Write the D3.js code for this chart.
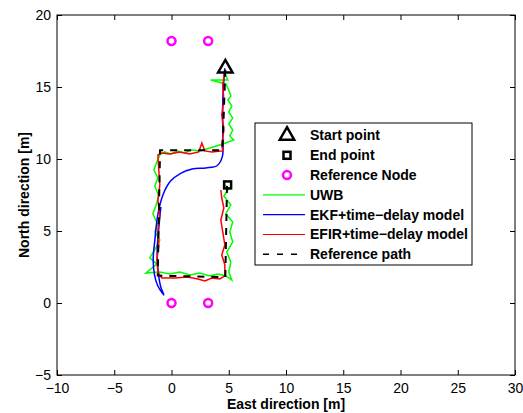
<!DOCTYPE html>
<html>
<head>
<meta charset="utf-8">
<script src="https://cdn.jsdelivr.net/npm/d3@7"></script>
<style>
  body { margin: 0; background: #fff; }
  svg text { font-family: "Liberation Sans", Arial, sans-serif; }
</style>
</head>
<body>
<div id="chart"></div>
<script>
// Axis ticks
const xTicks = [-10, -5, 0, 5, 10, 15, 20, 25, 30];
const yTicks = [-5, 0, 5, 10, 15, 20];

// Markers
const startPoint = [[4.7, 16.3]];
const endPoint = [[4.9, 8.2]];
const refNodes = [[0, 0], [3.2, 0], [0, 18.2], [3.2, 18.2]];

// Reference path (dashed)
const refPath = [[4.7, 16.2], [4.45, 10.6], [-1.0, 10.6], [-1.2, 1.9], [4.7, 1.8], [4.85, 8.2]];

// UWB raw positions
const uwb = [
  [4.74, 15.83], [4.92, 15.49], [3.43, 15.49], [4.74, 15.21], [5.0, 14.79], [5.18, 14.38],
  [4.92, 14.1], [5.27, 13.68], [5.0, 13.26], [5.35, 12.85], [5.0, 12.43], [5.35, 12.01],
  [5.09, 11.6], [5.44, 11.32], [4.48, 11.04], [3.35, 10.76], [2.47, 10.56], [1.77, 10.63],
  [1.16, 10.42], [0.55, 10.56], [-0.06, 10.35], [-0.59, 10.49], [-1.02, 10.28], [-1.28, 9.79],
  [-1.54, 9.24], [-1.19, 8.68], [-1.46, 8.13], [-1.11, 7.43], [-1.37, 6.74], [-1.63, 6.18],
  [-1.19, 5.49], [-1.46, 4.93], [-1.02, 4.38], [-1.37, 3.82], [-1.9, 3.13], [-1.28, 2.71],
  [-2.24, 2.08], [-1.02, 2.15], [-0.15, 2.01], [0.72, 2.15], [1.6, 1.94], [2.47, 2.08],
  [3.35, 1.88], [4.04, 2.01], [4.74, 1.88], [5.27, 1.6], [5.0, 2.15], [5.18, 2.85],
  [4.83, 3.54], [5.35, 4.24], [5.09, 4.93], [5.35, 5.63], [4.74, 6.18], [5.18, 6.81],
  [4.57, 7.43], [5.0, 7.92], [4.66, 8.19]
];

// EKF + time-delay model
const ekf = [
  [4.65, 16.3], [4.48, 14.1], [4.48, 11.3], [4.45, 10.2], [4.0, 9.55], [3.0, 9.38],
  [1.8, 9.3], [0.8, 9.0], [-0.1, 8.45], [-0.75, 7.5], [-1.2, 6.1], [-1.45, 4.4],
  [-1.6, 3.0], [-1.48, 1.94], [-1.2, 1.2], [-0.67, 0.56], [-0.95, 1.15], [-1.18, 2.3],
  [-1.25, 3.7], [-1.12, 5.1], [-0.93, 6.67]
];

// EFIR + time-delay model
const efir = [
  [4.66, 16.18], [4.48, 15.14], [4.57, 14.1], [4.39, 13.06], [4.57, 12.01], [4.39, 10.97],
  [4.48, 10.56], [3.52, 10.49], [2.91, 10.56], [2.65, 11.11], [2.38, 10.49], [1.6, 10.35],
  [0.72, 10.49], [-0.15, 10.35], [-0.85, 10.42], [-1.19, 10.28], [-1.11, 9.24], [-1.02, 8.19],
  [-1.19, 7.15], [-1.02, 6.11], [-1.19, 5.07], [-1.11, 4.03], [-1.28, 2.99], [-1.19, 2.15],
  [-0.85, 1.74], [0.29, 1.74], [1.42, 1.81], [2.3, 1.67], [2.91, 1.53], [3.52, 1.74],
  [4.22, 1.67], [4.66, 1.88], [4.66, 2.64], [4.39, 3.33], [4.66, 4.03], [4.48, 4.93],
  [4.31, 5.76], [4.57, 6.6], [4.39, 7.29], [4.31, 7.85]
];

const width = 523, height = 413;
const margin = { top: 15, right: 8, bottom: 38, left: 57 };
const innerW = width - margin.left - margin.right;
const innerH = height - margin.top - margin.bottom;

const svg = d3.select("#chart").append("svg")
  .attr("width", width).attr("height", height);

const x = d3.scaleLinear().domain([-10, 30]).range([0, innerW]);
const y = d3.scaleLinear().domain([-5, 20]).range([innerH, 0]);

const g = svg.append("g").attr("transform", `translate(${margin.left},${margin.top})`);

const fmt = d => d < 0 ? "\u2212" + Math.abs(d) : d;

// Axes with inward ticks (MATLAB box style)
g.append("g").attr("transform", `translate(0,${innerH})`)
  .call(d3.axisBottom(x).tickValues(xTicks).tickSizeInner(-5).tickSizeOuter(0).tickPadding(8).tickFormat(fmt));
g.append("g")
  .call(d3.axisLeft(y).tickValues(yTicks).tickSizeInner(-5).tickSizeOuter(0).tickPadding(6).tickFormat(fmt));
g.append("g")
  .call(d3.axisTop(x).tickValues(xTicks).tickSizeInner(-5).tickSizeOuter(0).tickFormat(""));
g.append("g").attr("transform", `translate(${innerW},0)`)
  .call(d3.axisRight(y).tickValues(yTicks).tickSizeInner(-5).tickSizeOuter(0).tickFormat(""));

g.selectAll(".domain").remove();
g.selectAll(".tick line").attr("stroke", "#000");
g.selectAll(".tick text").attr("fill", "#000").style("font-size", "14px");

g.append("rect").attr("width", innerW).attr("height", innerH)
  .attr("fill", "none").attr("stroke", "#000").attr("stroke-width", 1);

const line = d3.line().x(d => x(d[0])).y(d => y(d[1]));
const smooth = d3.line().x(d => x(d[0])).y(d => y(d[1])).curve(d3.curveCatmullRom);

g.append("path").datum(uwb).attr("d", line)
  .attr("fill", "none").attr("stroke", "#00ff00").attr("stroke-width", 1.5);
g.append("path").datum(ekf).attr("d", smooth)
  .attr("fill", "none").attr("stroke", "#0000ff").attr("stroke-width", 1.5);
g.append("path").datum(efir).attr("d", line)
  .attr("fill", "none").attr("stroke", "#ff0000").attr("stroke-width", 1.5);
g.append("path").datum(refPath).attr("d", line)
  .attr("fill", "none").attr("stroke", "#000").attr("stroke-width", 2).attr("stroke-dasharray", "7,7");

// Markers
const tri = d3.symbol().type(d3.symbolTriangle).size(90);
g.selectAll(".start").data(startPoint).enter().append("path")
  .attr("d", tri).attr("transform", d => `translate(${x(d[0])},${y(d[1])})`)
  .attr("fill", "none").attr("stroke", "#000").attr("stroke-width", 2.5);
g.selectAll(".end").data(endPoint).enter().append("rect")
  .attr("x", d => x(d[0]) - 3.5).attr("y", d => y(d[1]) - 3.5)
  .attr("width", 7).attr("height", 7)
  .attr("fill", "none").attr("stroke", "#000").attr("stroke-width", 2.5);
g.selectAll(".node").data(refNodes).enter().append("circle")
  .attr("cx", d => x(d[0])).attr("cy", d => y(d[1])).attr("r", 4)
  .attr("fill", "none").attr("stroke", "#ff00ff").attr("stroke-width", 2.5);

// Axis labels
svg.append("text").attr("x", margin.left + innerW / 2).attr("y", 409)
  .attr("text-anchor", "middle").style("font-size", "14px").style("font-weight", "bold")
  .text("East direction [m]");
svg.append("text").attr("transform", `translate(29,${margin.top + innerH / 2}) rotate(-90)`)
  .attr("text-anchor", "middle").style("font-size", "14px").style("font-weight", "bold")
  .text("North direction [m]");

// Legend
const legendItems = [
  { label: "Start point", type: "tri" },
  { label: "End point", type: "sq" },
  { label: "Reference Node", type: "circ" },
  { label: "UWB", type: "line", color: "#00ff00" },
  { label: "EKF+time\u2212delay model", type: "line", color: "#0000ff" },
  { label: "EFIR+time\u2212delay model", type: "line", color: "#ff0000" },
  { label: "Reference path", type: "dash", color: "#000" }
];
const legend = svg.append("g").attr("transform", "translate(255,123)");
legend.append("rect").attr("width", 217).attr("height", 142)
  .attr("fill", "#fff").attr("stroke", "#000").attr("stroke-width", 1);
const li = legend.selectAll(".li").data(legendItems).enter().append("g")
  .attr("transform", (d, i) => `translate(0,${12.5 + i * 19.8})`);
li.each(function(d) {
  const s = d3.select(this);
  if (d.type === "tri") {
    s.append("path").attr("d", tri).attr("transform", "translate(32,0)")
      .attr("fill", "none").attr("stroke", "#000").attr("stroke-width", 2.5);
  } else if (d.type === "sq") {
    s.append("rect").attr("x", 28.5).attr("y", -3.5).attr("width", 7).attr("height", 7)
      .attr("fill", "none").attr("stroke", "#000").attr("stroke-width", 2.5);
  } else if (d.type === "circ") {
    s.append("circle").attr("cx", 32).attr("cy", 0).attr("r", 4)
      .attr("fill", "none").attr("stroke", "#ff00ff").attr("stroke-width", 2.5);
  } else {
    s.append("line").attr("x1", 8).attr("x2", 50).attr("y1", 0).attr("y2", 0)
      .attr("stroke", d.color).attr("stroke-width", d.type === "dash" ? 1.5 : 1.2)
      .attr("stroke-dasharray", d.type === "dash" ? "6,8" : null);
  }
  s.append("text").attr("x", 55).attr("y", 0).attr("dy", "0.35em")
    .style("font-size", "14px").style("font-weight", "bold").text(d.label);
});
</script>
</body>
</html>
